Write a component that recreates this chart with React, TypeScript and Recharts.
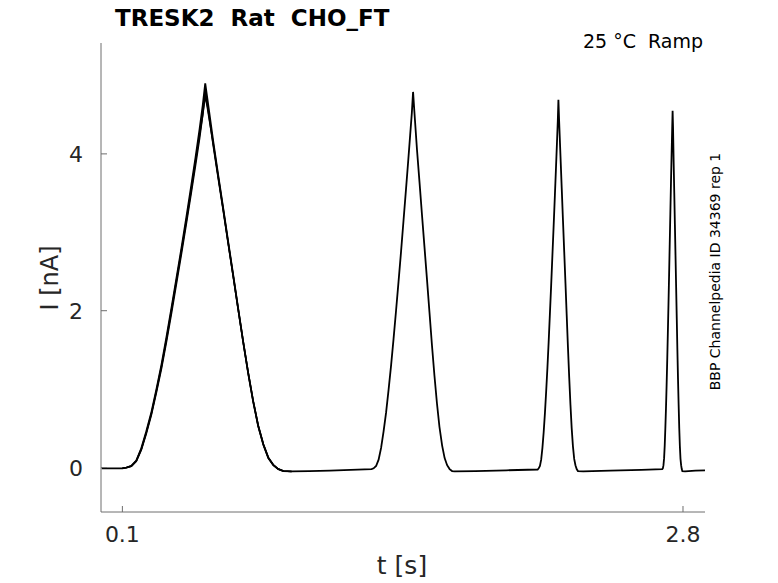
import React from "react";
import { LineChart, Line, XAxis, YAxis } from "recharts";

// ---- data ----
const tMain = [
  0.0, 0.05, 0.1, 0.12, 0.143, 0.167, 0.191, 0.215, 0.24, 0.264, 0.288, 0.312, 0.336, 0.36, 0.384, 0.408, 0.432, 0.452,
  0.472, 0.487, 0.499, 0.51, 0.538, 0.562, 0.586, 0.61, 0.634, 0.658, 0.682, 0.706, 0.73, 0.754, 0.779, 0.803, 0.827,
  0.851, 0.875, 0.915, 1.0, 1.1, 1.2, 1.3,
  1.31, 1.322, 1.334, 1.346, 1.358, 1.37, 1.382, 1.394, 1.406, 1.418, 1.43, 1.442, 1.454, 1.466, 1.476, 1.486, 1.494,
  1.5, 1.506, 1.519, 1.531, 1.543, 1.555, 1.567, 1.579, 1.591, 1.603, 1.615, 1.627, 1.64, 1.652, 1.664, 1.676, 1.688,
  1.7, 1.8, 1.95, 2.1,
  2.105, 2.111, 2.117, 2.123, 2.129, 2.135, 2.141, 2.147, 2.153, 2.159, 2.165, 2.171, 2.177, 2.183, 2.188, 2.193, 2.197,
  2.2, 2.203, 2.21, 2.216, 2.222, 2.228, 2.234, 2.24, 2.246, 2.252, 2.258, 2.264, 2.27, 2.276, 2.282, 2.288, 2.294,
  2.32, 2.45, 2.6, 2.7,
  2.703, 2.706, 2.709, 2.712, 2.715, 2.718, 2.721, 2.724, 2.727, 2.73, 2.733, 2.736, 2.739, 2.742, 2.745, 2.748, 2.75,
  2.752, 2.755, 2.758, 2.761, 2.764, 2.767, 2.77, 2.773, 2.776, 2.779, 2.782, 2.785, 2.788, 2.791, 2.794, 2.797, 2.81,
  2.86, 2.906,
];
const iMain = [
  -0.01, -0.01, -0.01, 0.0, 0.02, 0.09, 0.245, 0.46, 0.71, 1.0, 1.31, 1.66, 2.03, 2.41, 2.79, 3.19, 3.6, 3.95,
  4.32, 4.62, 4.9, 4.69, 4.15, 3.72, 3.3, 2.87, 2.45, 2.02, 1.6, 1.2, 0.84, 0.53, 0.29, 0.12, 0.03,
  -0.02, -0.045, -0.05, -0.045, -0.04, -0.03, -0.02,
  -0.01, 0.02, 0.1, 0.25, 0.46, 0.7, 0.99, 1.3, 1.64, 2.0, 2.37, 2.75, 3.15, 3.55, 3.89, 4.24, 4.52,
  4.79, 4.55, 4.05, 3.64, 3.22, 2.81, 2.4, 1.98, 1.56, 1.17, 0.82, 0.52, 0.28, 0.12, 0.03, -0.02, -0.045,
  -0.05, -0.045, -0.035, -0.025,
  -0.01, 0.02, 0.1, 0.25, 0.45, 0.69, 0.97, 1.27, 1.6, 1.96, 2.32, 2.7, 3.08, 3.47, 3.8, 4.14, 4.42,
  4.69, 4.45, 3.97, 3.56, 3.15, 2.75, 2.35, 1.94, 1.53, 1.15, 0.8, 0.5, 0.27, 0.11, 0.03, -0.02, -0.045,
  -0.05, -0.04, -0.03, -0.02,
  -0.01, 0.03, 0.12, 0.28, 0.5, 0.75, 1.04, 1.36, 1.71, 2.07, 2.45, 2.84, 3.23, 3.62, 3.98, 4.33, 4.55,
  4.35, 3.9, 3.5, 3.1, 2.7, 2.3, 1.9, 1.5, 1.13, 0.8, 0.5, 0.27, 0.11, 0.03, -0.02, -0.045, -0.05,
  -0.04, -0.035,
];

// other sweeps overlapping around the first ramp
const tPeak1 = [
  0.1, 0.12, 0.143, 0.167, 0.191, 0.215, 0.24, 0.264, 0.288, 0.312, 0.336, 0.36, 0.384, 0.408, 0.432, 0.452, 0.472,
  0.487, 0.499, 0.51, 0.538, 0.562, 0.586, 0.61, 0.634, 0.658, 0.682, 0.706, 0.73, 0.754, 0.779, 0.803, 0.827, 0.851,
  0.875, 0.915,
];
const iSweep2 = [
  -0.01, 0.0, 0.015, 0.08, 0.225, 0.43, 0.675, 0.96, 1.26, 1.6, 1.96, 2.34, 2.72, 3.11, 3.51, 3.85, 4.2,
  4.5, 4.8, 4.62, 4.1, 3.68, 3.27, 2.85, 2.43, 2.01, 1.6, 1.21, 0.85, 0.54, 0.3, 0.13, 0.035, -0.02,
  -0.045, -0.05,
];
const iSweep3 = [
  -0.01, 0.0, 0.02, 0.085, 0.235, 0.445, 0.69, 0.98, 1.285, 1.63, 2.0, 2.38, 2.76, 3.15, 3.55, 3.9, 4.25,
  4.5, 4.74, 4.58, 4.12, 3.7, 3.29, 2.86, 2.44, 2.02, 1.6, 1.2, 0.84, 0.53, 0.29, 0.12, 0.03, -0.02,
  -0.045, -0.05,
];

const xTicks = [0.1, 2.8];
const yTicks = [0, 2, 4];
const xDomain = [-0.003, 2.906];
const yDomain = [-0.567, 5.414];

const title = "TRESK2  Rat  CHO_FT";
const condition = "25 °C  Ramp";
const sideNote = "BBP Channelpedia ID 34369 rep 1";
const xLabel = "t [s]";
const yLabel = "I [nA]";

const mainData = tMain.map((t, k) => ({ t, i: iMain[k] }));
const sweep2Data = tPeak1.map((t, k) => ({ t, i: iSweep2[k] }));
const sweep3Data = tPeak1.map((t, k) => ({ t, i: iSweep3[k] }));

const FONT = "'DejaVu Sans', sans-serif";
const AXIS_COLOR = "#6e6e6e";
const TEXT_COLOR = "#262626";
const PRE: React.CSSProperties = { whiteSpace: "pre" };

const W = 778;
const H = 583;

const YTick = (props: any) => {
  const { x, y, payload } = props;
  return (
    <g>
      <line x1={x} x2={x + 6} y1={y} y2={y} stroke={AXIS_COLOR} strokeWidth={1} />
      <text x={x - 18} y={y + 8} textAnchor="end" fontSize={22} fontFamily={FONT} fill={TEXT_COLOR}>
        {payload.value}
      </text>
    </g>
  );
};

const XTick = (props: any) => {
  const { x, y, payload } = props;
  return (
    <g>
      <line x1={x} x2={x} y1={y} y2={y - 6} stroke={AXIS_COLOR} strokeWidth={1} />
      <text x={x} y={y + 30} textAnchor="middle" fontSize={22} fontFamily={FONT} fill={TEXT_COLOR}>
        {payload.value}
      </text>
    </g>
  );
};

export default function App() {
  return (
    <div style={{ position: "absolute", left: 0, top: 0, width: W, height: H, background: "#fff" }}>
      <LineChart width={W} height={H} margin={{ top: 43, right: 73, bottom: 0, left: 0 }}>
        <XAxis
          dataKey="t"
          type="number"
          domain={xDomain}
          ticks={xTicks}
          height={71}
          tickSize={0}
          tickMargin={0}
          tickLine={false}
          axisLine={{ stroke: AXIS_COLOR, strokeWidth: 1 }}
          tick={<XTick />}
          allowDataOverflow
          interval={0}
        />
        <YAxis
          dataKey="i"
          type="number"
          domain={yDomain}
          ticks={yTicks}
          width={101}
          tickSize={0}
          tickMargin={0}
          tickLine={false}
          axisLine={{ stroke: AXIS_COLOR, strokeWidth: 1 }}
          tick={<YTick />}
          allowDataOverflow
          interval={0}
        />
        <Line data={sweep3Data} dataKey="i" type="linear" stroke="#000" strokeWidth={1.6} dot={false} isAnimationActive={false} />
        <Line data={sweep2Data} dataKey="i" type="linear" stroke="#000" strokeWidth={1.6} dot={false} isAnimationActive={false} />
        <Line data={mainData} dataKey="i" type="linear" stroke="#000" strokeWidth={1.8} dot={false} isAnimationActive={false} />
      </LineChart>
      <svg width={W} height={H} style={{ position: "absolute", left: 0, top: 0, pointerEvents: "none" }}>
        <text x={115} y={26} fontSize={23} fontWeight="bold" fontFamily={FONT} fill="#000" xmlSpace="preserve" style={PRE}>
          {title}
        </text>
        <text x={703} y={47.5} textAnchor="end" fontSize={19} fontFamily={FONT} fill="#000" xmlSpace="preserve" style={PRE}>
          {condition}
        </text>
        <text
          x={720}
          y={271.5}
          textAnchor="middle"
          fontSize={14}
          fontFamily={FONT}
          fill="#000"
          transform="rotate(-90 720 271.5)"
        >
          {sideNote}
        </text>
        <text
          x={58}
          y={278}
          textAnchor="middle"
          fontSize={24}
          fontFamily={FONT}
          fill={TEXT_COLOR}
          transform="rotate(-90 58 278)"
        >
          {yLabel}
        </text>
        <text x={402} y={574} textAnchor="middle" fontSize={25} fontFamily={FONT} fill={TEXT_COLOR}>
          {xLabel}
        </text>
      </svg>
    </div>
  );
}
